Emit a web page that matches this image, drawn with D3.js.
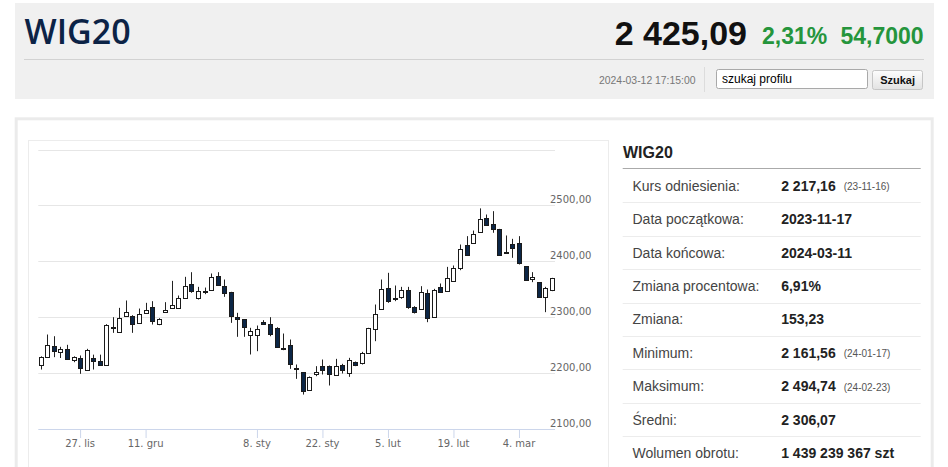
<!DOCTYPE html>
<html lang="pl">
<head>
<meta charset="utf-8">
<script src="https://cdn.jsdelivr.net/npm/d3@7/dist/d3.min.js"></script>
<style>
  html, body { margin: 0; padding: 0; background: #fff; }
  svg { display: block; }
</style>
</head>
<body>
<svg id="page" width="948" height="467"></svg>
<script>
// ---------------- DATA ----------------
const dates = [
  "2023-11-17","2023-11-20","2023-11-21","2023-11-22","2023-11-23","2023-11-24","2023-11-27","2023-11-28","2023-11-29","2023-11-30",
  "2023-12-01","2023-12-04","2023-12-05","2023-12-06","2023-12-07","2023-12-08","2023-12-11","2023-12-12","2023-12-13","2023-12-14",
  "2023-12-15","2023-12-18","2023-12-19","2023-12-20","2023-12-21","2023-12-22","2023-12-27","2023-12-28","2023-12-29",
  "2024-01-02","2024-01-03","2024-01-04","2024-01-05","2024-01-08","2024-01-09","2024-01-10","2024-01-11","2024-01-12","2024-01-15",
  "2024-01-16","2024-01-17","2024-01-18","2024-01-19","2024-01-22","2024-01-23","2024-01-24","2024-01-25","2024-01-26","2024-01-29",
  "2024-01-30","2024-01-31",
  "2024-02-01","2024-02-02","2024-02-05","2024-02-06","2024-02-07","2024-02-08","2024-02-09","2024-02-12","2024-02-13","2024-02-14",
  "2024-02-15","2024-02-16","2024-02-19","2024-02-20","2024-02-21","2024-02-22","2024-02-23","2024-02-26","2024-02-27","2024-02-28",
  "2024-02-29",
  "2024-03-01","2024-03-04","2024-03-05","2024-03-06","2024-03-07","2024-03-08","2024-03-11"
];
const open = [
  2214.8,2228.5,2249.3,2238.6,2243.4,2224.3,2227.3,2205.2,2227.3,2222.5,
  2214.8,2280.4,2273.2,2302.0,2303.0,2289.9,2307.2,2317.9,2288.7,2309.0,
  2316.7,2316.7,2334.6,2359.0,2334.0,2345.4,2348.3,2373.4,2356.7,
  2345.4,2300.6,2295.9,2269.0,2269.0,2292.3,2288.1,2281.0,2245.2,2249.4,
  2210.0,2201.6,2170.6,2197.5,2212.4,2212.4,2196.9,2213.6,2200.5,2219.5,
  2217.2,2235.1,
  2279.2,2315.0,2352.5,2334.0,2336.4,2348.4,2318.5,2315.0,2343.6,2300.7,
  2353.7,2346.6,2364.5,2388.3,2428.3,2433.0,2452.1,2477.2,2467.0,2458.0,
  2417.0,
  2431.2,2433.0,2391.3,2369.2,2362.7,2336.4,2349.5
];
const high = [
  2230.0,2269.0,2266.0,2247.0,2250.6,2230.0,2231.5,2243.4,2233.0,2233.0,
  2287.5,2300.0,2316.7,2329.9,2303.6,2315.5,2325.7,2328.7,2298.2,2326.9,
  2365.0,2338.8,2372.2,2380.5,2354.3,2353.0,2378.2,2380.5,2367.4,
  2345.4,2307.8,2295.9,2281.0,2285.1,2294.7,2300.0,2282.1,2270.8,2260.1,
  2215.4,2201.6,2194.0,2212.4,2224.3,2213.6,2225.5,2216.6,2227.3,2220.7,
  2238.0,2281.0,
  2322.7,2367.4,2379.4,2356.7,2354.3,2354.3,2319.7,2355.5,2349.5,2350.7,
  2360.3,2390.0,2392.5,2430.0,2445.0,2455.0,2494.7,2483.7,2489.7,2458.0,
  2446.2,
  2440.2,2445.0,2391.3,2380.6,2362.7,2354.3,2370.4
];
const low = [
  2206.4,2228.5,2228.5,2227.0,2224.3,2219.5,2198.7,2205.0,2206.4,2214.0,
  2214.8,2272.0,2273.2,2300.6,2272.0,2289.9,2306.0,2286.9,2285.7,2309.0,
  2315.0,2316.0,2332.8,2343.6,2331.6,2341.2,2348.3,2356.7,2336.4,
  2289.9,2264.9,2264.9,2233.3,2239.2,2286.9,2266.0,2245.2,2241.0,2207.6,
  2189.7,2161.6,2170.6,2194.5,2197.5,2177.8,2196.9,2199.3,2193.3,2212.4,
  2215.4,2235.1,
  2257.1,2313.8,2325.7,2328.7,2332.9,2315.0,2306.6,2313.8,2291.1,2300.7,
  2343.6,2346.6,2364.5,2384.1,2410.4,2433.0,2452.1,2465.2,2451.0,2410.4,
  2414.0,
  2406.2,2394.3,2367.4,2362.7,2334.6,2309.0,2346.6
];
const close = [
  2229.1,2250.0,2240.4,2243.4,2225.5,2229.1,2208.8,2241.0,2221.3,2214.8,
  2286.3,2281.6,2299.4,2309.6,2288.7,2306.6,2313.2,2292.9,2297.0,2313.2,
  2321.5,2334.6,2355.5,2346.0,2347.7,2346.5,2371.6,2357.3,2343.6,
  2303.0,2297.0,2282.7,2275.0,2279.2,2288.7,2270.8,2246.4,2243.4,2215.4,
  2208.8,2167.7,2193.3,2202.2,2205.2,2197.5,2212.4,2206.4,2223.1,2213.6,
  2235.1,2279.8,
  2306.6,2350.7,2328.7,2331.7,2348.4,2318.5,2309.0,2345.4,2298.9,2348.4,
  2344.8,2370.4,2388.3,2422.3,2410.4,2448.0,2476.0,2465.2,2458.0,2411.6,
  2415.7,
  2424.1,2397.3,2367.4,2371.6,2336.4,2351.9,2370.4
];
const yGridValues = [2200, 2300, 2400, 2500, 2600];
const yLabelValues = [2100, 2200, 2300, 2400, 2500];
const xTickDates = ["2023-11-27","2023-12-11","2024-01-08","2024-01-22","2024-02-05","2024-02-19","2024-03-04"];
const xTickLabels = ["27. lis","11. gru","8. sty","22. sty","5. lut","19. lut","4. mar"];

const headerTitle = "WIG20";
const headerPrice = "2 425,09";
const headerChangePct = "2,31%";
const headerChange = "54,7000";
const headerTimestamp = "2024-03-12 17:15:00";

const tableTitle = "WIG20";
const tableLabels = ["Kurs odniesienia:","Data początkowa:","Data końcowa:","Zmiana procentowa:","Zmiana:","Minimum:","Maksimum:","Średni:","Wolumen obrotu:"];
const tableValues = ["2 217,16","2023-11-17","2024-03-11","6,91%","153,23","2 161,56","2 494,74","2 306,07","1 439 239 367 szt"];
const tableNotes = ["(23-11-16)","","","","","(24-01-17)","(24-02-23)","",""];

// ---------------- DRAW ----------------
const svg = d3.select("#page");
const defs = svg.append("defs");
const grad = defs.append("linearGradient").attr("id","btn").attr("x1",0).attr("y1",0).attr("x2",0).attr("y2",1);
grad.append("stop").attr("offset","0%").attr("stop-color","#fdfdfd");
grad.append("stop").attr("offset","100%").attr("stop-color","#e2e2e2");

// header panel
svg.append("rect").attr("x",15).attr("y",3).attr("width",919).attr("height",96).attr("fill","#f0f0f0");
svg.append("text").attr("x",24.5).attr("y",43.5)
  .style("font-family","'Open Sans', sans-serif").style("font-weight",600).style("font-size","34px")
  .attr("fill","#0c2346").text(headerTitle);
svg.append("text").attr("x",747).attr("y",45).attr("text-anchor","end")
  .style("font-family","'Liberation Sans', Arial, sans-serif").style("font-weight","bold").style("font-size","34px")
  .attr("fill","#111").text(headerPrice);
svg.append("text").attr("x",762).attr("y",43.5)
  .style("font-family","'Liberation Sans', Arial, sans-serif").style("font-weight","bold").style("font-size","23px")
  .attr("fill","#25953c").text(headerChangePct);
svg.append("text").attr("x",840.5).attr("y",43.5)
  .style("font-family","'Liberation Sans', Arial, sans-serif").style("font-weight","bold").style("font-size","23px")
  .attr("fill","#25953c").text(headerChange);
svg.append("line").attr("x1",24).attr("x2",924).attr("y1",59.5).attr("y2",59.5).attr("stroke","#d2d2d2");
svg.append("text").attr("x",695.5).attr("y",84).attr("text-anchor","end")
  .style("font-family","'Liberation Sans', Arial, sans-serif").style("font-size","10.4px")
  .attr("fill","#777").text(headerTimestamp);
svg.append("line").attr("x1",704.5).attr("x2",704.5).attr("y1",67).attr("y2",92).attr("stroke","#dcdcdc");
svg.append("rect").attr("x",716.5).attr("y",69.5).attr("width",151).attr("height",19).attr("rx",2)
  .attr("fill","#fff").attr("stroke","#a9a9a9");
svg.append("text").attr("x",722).attr("y",83)
  .style("font-family","'Liberation Sans', Arial, sans-serif").style("font-size","12px")
  .attr("fill","#000").text("szukaj profilu");
svg.append("rect").attr("x",872.5).attr("y",70.5).attr("width",50).attr("height",19).attr("rx",2)
  .attr("fill","url(#btn)").attr("stroke","#c6c6c6");
svg.append("text").attr("x",897.6).attr("y",84).attr("text-anchor","middle")
  .style("font-family","'Liberation Sans', Arial, sans-serif").style("font-weight","bold").style("font-size","11px")
  .attr("fill","#111").text("Szukaj");

// outer white panel & chart box
svg.append("rect").attr("x",16.2).attr("y",118.8).attr("width",916).attr("height",380)
  .attr("fill","#fff").attr("stroke","#ebebeb").attr("stroke-width",3);
svg.append("rect").attr("x",28.5).attr("y",140.5).attr("width",580).attr("height",360)
  .attr("fill","#fff").attr("stroke","#ececec");

// scales
const plotLeft = 38.3, plotRight = 555;
const x = d3.scaleBand().domain(dates).range([37.5, plotRight]).paddingInner(0).paddingOuter(0);
const y = d3.scaleLinear().domain([2100, 2600]).range([429, 149.5]);
const fmt = d3.formatLocale({decimal: ",", thousands: " ", grouping: [3], currency: ["", ""]}).format(".2f");

const chart = svg.append("g");
// gridlines
chart.selectAll("line.grid").data(yGridValues).join("line")
  .attr("class","grid")
  .attr("x1",plotLeft).attr("x2",plotRight)
  .attr("y1",d => Math.round(y(d)) + 0.5).attr("y2",d => Math.round(y(d)) + 0.5)
  .attr("stroke","#e6e6e6");
// y labels
chart.selectAll("text.ylab").data(yLabelValues).join("text")
  .attr("class","ylab")
  .attr("x",550).attr("y",d => y(d) - 2)
  .style("font-family","'DejaVu Sans', Verdana, sans-serif").style("font-size","10px")
  .attr("fill","#666").text(d => fmt(d));

// x axis
const xAxisG = chart.append("g").attr("transform","translate(0,429)");
xAxisG.call(d3.axisBottom(x).tickValues(xTickDates)
  .tickFormat(d => xTickLabels[xTickDates.indexOf(d)])
  .tickSize(9).tickSizeOuter(0).tickPadding(2));
xAxisG.select(".domain").remove();
xAxisG.selectAll(".tick line").attr("stroke","#ccd6eb").attr("transform","translate(0.5,0)");
xAxisG.selectAll(".tick text").attr("fill","#666")
  .style("font-family","'DejaVu Sans', Verdana, sans-serif").style("font-size","10px");
chart.append("line").attr("x1",plotLeft).attr("x2",plotRight).attr("y1",429.5).attr("y2",429.5)
  .attr("stroke","#ccd6eb");

// candles
const candles = dates.map((d, i) => ({d, o: open[i], h: high[i], l: low[i], c: close[i]}));
const cx = d => Math.round(x(d.d) + x.bandwidth() / 2) + 0.5;
const cg = chart.selectAll("g.candle").data(candles).join("g").attr("class","candle");
cg.append("line")
  .attr("x1",cx).attr("x2",cx)
  .attr("y1",d => y(d.h)).attr("y2",d => y(d.l))
  .attr("stroke","#222").attr("stroke-width",1);
cg.append("rect")
  .attr("x",d => cx(d) - 2)
  .attr("width",4)
  .attr("y",d => Math.round(y(Math.max(d.o, d.c))) + 0.5)
  .attr("height",d => Math.max(1, Math.round(y(Math.min(d.o, d.c))) - Math.round(y(Math.max(d.o, d.c)))))
  .attr("fill",d => d.c >= d.o ? "#ffffff" : "#0c2646")
  .attr("stroke","#1a1a1a").attr("stroke-width",1);

// right table
const tg = svg.append("g");
tg.append("text").attr("x",623).attr("y",157.5)
  .style("font-family","'Liberation Sans', Arial, sans-serif").style("font-weight","bold").style("font-size","16px")
  .attr("fill","#222").text(tableTitle);
tg.append("line").attr("x1",622.7).attr("x2",920.7).attr("y1",168.5).attr("y2",168.5).attr("stroke","#aaa");
const rowY = i => 185.7 + 33.4 * i;
tg.selectAll("line.sep").data(tableLabels.slice(0, -1)).join("line")
  .attr("class","sep")
  .attr("x1",622.7).attr("x2",920.7)
  .attr("y1",(d,i) => Math.round(rowY(i) + 16.6) + 0.5).attr("y2",(d,i) => Math.round(rowY(i) + 16.6) + 0.5)
  .attr("stroke","#ececec");
tg.selectAll("text.lab").data(tableLabels).join("text")
  .attr("class","lab")
  .attr("x",632.5).attr("y",(d,i) => rowY(i) + 5)
  .style("font-family","'Liberation Sans', Arial, sans-serif").style("font-size","14px")
  .attr("fill","#444").text(d => d);
const vals = tg.selectAll("text.val").data(tableValues).join("text")
  .attr("class","val")
  .attr("x",781.2).attr("y",(d,i) => rowY(i) + 5)
  .style("font-family","'Liberation Sans', Arial, sans-serif").style("font-weight","bold").style("font-size","14px")
  .attr("fill","#222").text(d => d);
const valNodes = vals.nodes();
tg.selectAll("text.note").data(tableNotes).join("text")
  .attr("class","note")
  .attr("x",(d,i) => 781.2 + valNodes[i].getComputedTextLength() + 8)
  .attr("y",(d,i) => rowY(i) + 4.5)
  .style("font-family","'Liberation Sans', Arial, sans-serif").style("font-size","10px")
  .attr("fill","#555").text(d => d);
</script>
</body>
</html>
